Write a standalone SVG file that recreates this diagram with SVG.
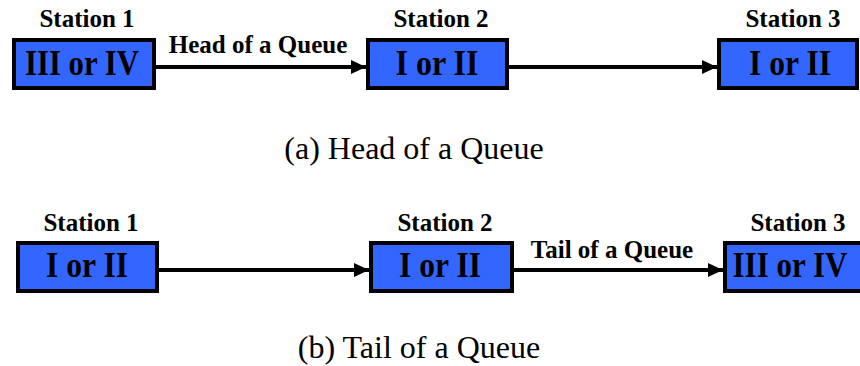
<svg xmlns="http://www.w3.org/2000/svg" width="860" height="366" viewBox="0 0 860 366">
<defs>
<style>
.box{fill:#3366ff;stroke:#000;stroke-width:4}
text{font-family:'Liberation Serif','Times New Roman','DejaVu Serif',serif;fill:#000;text-anchor:middle}
.bt{font-weight:bold;font-size:35px}
.st{font-weight:bold;font-size:25px}
.cap{font-size:32px}
.ln{stroke:#000;stroke-width:4;fill:none}
</style>
<marker id="ah" markerWidth="15" markerHeight="14" refX="15" refY="7" orient="auto" markerUnits="userSpaceOnUse">
<path d="M0,0 L15,7 L0,14 Z" fill="#000"/>
</marker>
</defs>
<rect width="860" height="366" fill="#fff"/>
<g id="connectors">
<line class="ln" x1="156" y1="67" x2="366" y2="67" marker-end="url(#ah)"/>
<line class="ln" x1="509" y1="67" x2="717" y2="67" marker-end="url(#ah)"/>
<line class="ln" x1="159" y1="270" x2="369" y2="270" marker-end="url(#ah)"/>
<line class="ln" x1="514" y1="270" x2="723" y2="270" marker-end="url(#ah)"/>
<text class="st" x="258" y="53" font-family="Liberation Serif, serif">Head of a Queue</text>
<text class="st" x="612" y="258" font-family="Liberation Serif, serif">Tail of a Queue</text>
</g>
<g id="a-station1">
<text class="st" x="87" y="27">Station 1</text>
<rect class="box" x="14" y="40" width="140" height="48"/>
<text class="bt" x="82" y="75" textLength="114" lengthAdjust="spacingAndGlyphs">III or IV</text>
</g>
<g id="a-station2">
<text class="st" x="441" y="27">Station 2</text>
<rect class="box" x="368" y="40" width="139" height="48"/>
<text class="bt" x="437" y="75" textLength="83" lengthAdjust="spacingAndGlyphs">I or II</text>
</g>
<g id="a-station3">
<text class="st" x="793" y="27">Station 3</text>
<rect class="box" x="719" y="40" width="138" height="48"/>
<text class="bt" x="790" y="75" textLength="82" lengthAdjust="spacingAndGlyphs">I or II</text>
</g>
<g id="b-station1">
<text class="st" x="91" y="231">Station 1</text>
<rect class="box" x="18" y="243" width="139" height="48"/>
<text class="bt" x="87" y="277" textLength="82" lengthAdjust="spacingAndGlyphs">I or II</text>
</g>
<g id="b-station2">
<text class="st" x="445" y="231">Station 2</text>
<rect class="box" x="371" y="243" width="141" height="48"/>
<text class="bt" x="440" y="277" textLength="82" lengthAdjust="spacingAndGlyphs">I or II</text>
</g>
<g id="b-station3">
<text class="st" x="798" y="231">Station 3</text>
<rect class="box" x="725" y="243" width="140" height="48"/>
<text class="bt" x="790" y="277" textLength="115" lengthAdjust="spacingAndGlyphs">III or IV</text>
</g>
<text class="cap" x="414" y="159">(a) Head of a Queue</text>
<text class="cap" x="419" y="358">(b) Tail of a Queue</text>
</svg>
